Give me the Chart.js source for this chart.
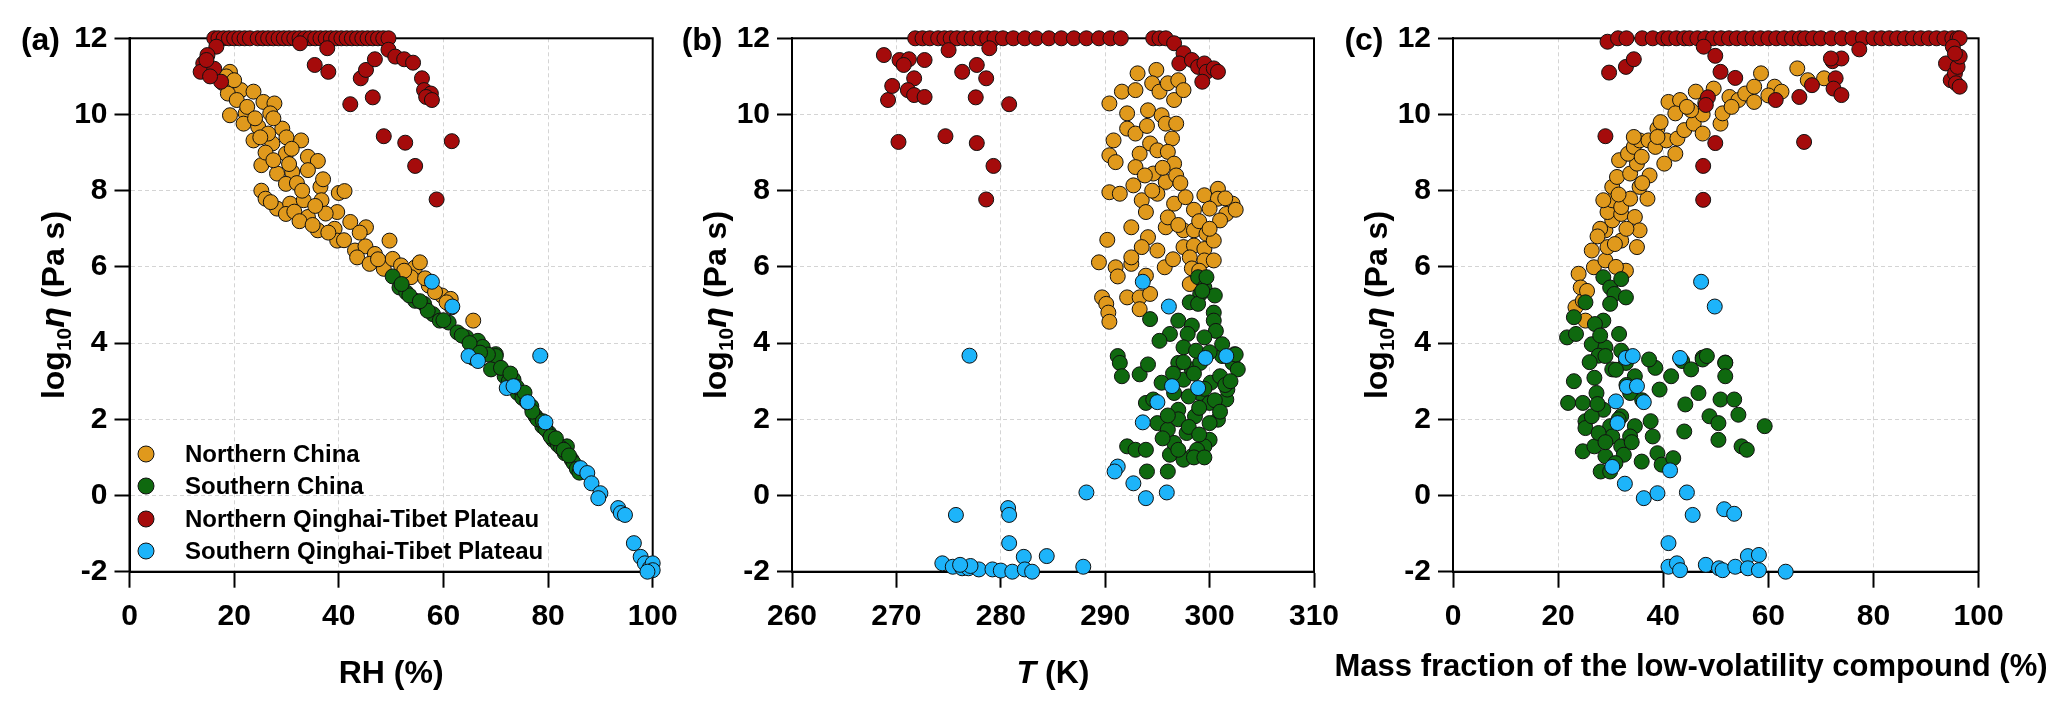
<!DOCTYPE html>
<html>
<head>
<meta charset="utf-8">
<script src="https://cdn.jsdelivr.net/npm/chart.js@4.4.0/dist/chart.umd.min.js"></script>
<style>
  html, body { margin: 0; padding: 0; background: #fff; }
  #wrap { position: relative; width: 2067px; height: 710px; }
  #wrap canvas { position: absolute; left: 0; top: 0; }
</style>
</head>
<body>
<div id="wrap">
  <canvas id="panelA" width="2067" height="710"></canvas>
  <canvas id="panelB" width="2067" height="710"></canvas>
  <canvas id="panelC" width="2067" height="710"></canvas>
</div>
<script>
// ---- DATA ----
const seriesNames = [
  "Northern China",
  "Southern China",
  "Northern Qinghai-Tibet Plateau",
  "Southern Qinghai-Tibet Plateau",
];

const viscosityTicks = [-2, 0, 2, 4, 6, 8, 10, 12];
const rhTicks = [0, 20, 40, 60, 80, 100];
const tempTicks = [260, 270, 280, 290, 300, 310];
const massTicks = [0, 20, 40, 60, 80, 100];

// (a) RH (%) vs log10 viscosity
const rhNorthChina = [
  [19.2, 11.12], [17.9, 10.82], [21.3, 10.64], [23.7, 10.6], [18.8, 10.55], [20.5, 10.38],
  [19.2, 9.98], [22.2, 10.03], [25.6, 10.33], [27.7, 10.29], [26.9, 10.03], [21.8, 9.76],
  [24.6, 9.68], [29.2, 9.63], [23.7, 9.32], [27.3, 9.24], [26.5, 9.5], [32.8, 9.32],
  [29.9, 8.97], [34.1, 8.89], [36.0, 8.78], [25.2, 8.67], [28.2, 8.45], [31.1, 8.49],
  [34.1, 8.54], [29.9, 8.18], [25.2, 8.0], [26.0, 7.79], [36.5, 8.1], [40.0, 7.94],
  [41.1, 7.99], [28.2, 7.53], [30.7, 7.66], [33.3, 7.75], [36.7, 7.75], [29.9, 7.39],
  [34.1, 7.31], [39.7, 7.44], [36.0, 6.96], [39.2, 7.0], [42.2, 7.18], [45.2, 7.04],
  [39.7, 6.69], [43.1, 6.43], [45.1, 6.54], [46.9, 6.34], [49.7, 6.69], [43.5, 6.25],
  [45.9, 6.08], [48.6, 5.95], [50.3, 6.21], [51.9, 6.04], [54.6, 5.99], [55.5, 6.12],
  [53.8, 5.73], [57.2, 5.51], [59.7, 5.25], [61.4, 5.16], [61.6, 4.94], [65.7, 4.59],
  [58.4, 5.34], [60.6, 5.07], [18.5, 11.0], [20.0, 10.9], [22.5, 10.2], [24.0, 9.9],
  [25.0, 9.4], [26.0, 9.0], [27.5, 8.8], [30.5, 8.7], [32.0, 8.2], [33.0, 8.0],
  [27.0, 7.7], [31.5, 7.45], [32.5, 7.2], [35.0, 7.1], [37.5, 7.4], [38.0, 6.9],
  [41.0, 6.7], [44.0, 6.9], [47.5, 6.2], [52.5, 5.9], [56.5, 5.7], [27.5, 9.9],
  [30.0, 9.4], [31.0, 9.1], [35.5, 7.6], [37.0, 8.3],
];
const rhSouthChina = [
  [50.3, 5.75], [51.6, 5.46], [52.9, 5.33], [54.6, 5.11], [56.3, 5.03], [58.0, 4.76],
  [59.3, 4.59], [61.0, 4.54], [62.7, 4.28], [64.4, 4.15], [66.6, 4.06], [70.0, 3.71],
  [65.7, 3.61], [70.0, 3.66], [69.1, 3.31], [71.7, 3.13], [73.4, 3.04], [74.2, 2.69],
  [75.1, 2.56], [76.8, 2.34], [77.6, 2.08], [78.9, 1.82], [80.2, 1.64], [81.0, 1.46],
  [81.9, 1.33], [83.6, 1.29], [83.2, 1.11], [84.5, 0.94], [84.9, 0.85], [67.5, 3.9],
  [68.5, 3.7], [72.5, 3.0], [74.0, 2.85], [76.0, 2.45], [78.0, 2.0], [79.5, 1.75],
  [80.5, 1.55], [82.5, 1.25], [85.5, 0.7], [86.0, 0.6], [57.0, 4.85], [60.0, 4.6],
  [63.5, 4.2], [65.0, 4.0], [53.5, 5.25], [55.5, 5.1], [52.0, 5.55], [67.0, 3.75],
  [71.0, 3.35], [72.8, 3.2], [75.5, 2.7], [77.0, 2.2], [79.0, 1.95], [81.5, 1.5],
  [83.0, 1.2], [84.0, 1.05],
];
const rhNorthQTP = [
  [16.2, 12], [17, 12], [18, 12], [19, 12], [20, 12], [21, 12], [22, 12], [23, 12],
  [24.5, 12], [25.5, 12], [26.5, 12], [27.5, 12], [28.5, 12], [29.5, 12], [30.5, 12],
  [31.5, 12], [32.5, 12], [33.5, 12], [34.5, 12], [35.5, 12], [36.5, 12], [37.5, 12],
  [38.5, 12], [39.5, 12], [40.5, 12], [41.5, 12], [42.5, 12], [43.5, 12], [44.5, 12],
  [45.5, 12], [46.5, 12], [47.5, 12], [48.5, 12], [49.5, 12],
  [16.6, 11.78], [14.9, 11.56], [14.1, 11.34], [13.6, 11.12], [16.2, 11.2], [17.5, 10.86],
  [15.4, 11.0], [14.7, 11.43], [32.6, 11.87], [37.8, 11.74], [35.4, 11.3], [38.0, 11.12],
  [42.2, 10.27], [44.2, 10.95], [45.2, 11.17], [46.9, 11.45], [46.5, 10.45], [48.6, 9.43],
  [49.5, 11.7], [50.8, 11.52], [52.5, 11.45], [54.2, 11.36], [55.9, 10.95], [56.3, 10.64],
  [57.6, 10.55], [56.7, 10.46], [57.8, 10.38], [52.7, 9.26], [54.6, 8.65], [58.7, 7.77],
  [61.6, 9.3],
];
const rhSouthQTP = [
  [57.8, 5.61], [61.7, 4.96], [78.5, 3.67], [64.8, 3.66], [66.6, 3.53], [72.1, 2.82],
  [73.4, 2.87], [76.1, 2.45], [79.5, 1.92], [86.2, 0.72], [87.5, 0.59], [88.3, 0.32],
  [90.0, 0.06], [89.6, -0.07], [93.4, -0.33], [93.9, -0.46], [94.7, -0.51], [96.4, -1.25],
  [97.7, -1.61], [98.5, -1.78], [99.4, -1.91], [100, -1.78], [100, -1.96], [99, -2.0],
];

// (b) T (K) vs log10 viscosity
const tempNorthChina = [
  [290.4, 10.29], [291.6, 10.6], [292.9, 10.64], [293.1, 11.08], [294.9, 11.17], [294.5, 10.82],
  [295.2, 10.6], [296, 10.82], [297, 10.9], [296.6, 10.38], [297.5, 10.64], [292.1, 10.03],
  [294.1, 10.11], [295.4, 9.98], [295.8, 9.76], [296.8, 9.76], [292.1, 9.63], [290.8, 9.32],
  [292.9, 9.5], [294.3, 9.24], [296.4, 9.37], [290.4, 8.93], [291, 8.75], [293.3, 8.97],
  [295, 9.06], [296, 9.02], [296.6, 8.71], [292.9, 8.62], [294.6, 8.45], [295.8, 8.23],
  [296.8, 8.4], [290.4, 7.96], [291.4, 7.92], [292.7, 8.14], [293.5, 7.75], [293.9, 7.44],
  [295, 7.92], [296.6, 7.66], [297.7, 7.83], [299.5, 7.88], [300.8, 8.05], [300.8, 7.79],
  [302.2, 7.66], [301.6, 7.39], [300, 7.53], [292.5, 7.04], [294.1, 6.78], [295.8, 7.04],
  [297.5, 6.96], [298.5, 6.96], [299.7, 6.87], [301, 7.22], [290.2, 6.71], [293.5, 6.52],
  [295, 6.43], [297.5, 6.52], [298.5, 6.56], [299.5, 6.47], [300.4, 6.69], [289.4, 6.12],
  [291, 5.99], [292.5, 6.08], [292.5, 6.25], [295.7, 5.99], [298.1, 6.25], [298.3, 5.96],
  [299.5, 6.17], [300.4, 6.17], [298.1, 5.55], [289.7, 5.2], [290.1, 5.03], [290.3, 4.8],
  [290.4, 4.56], [292.1, 5.2], [293.3, 5.2], [294.3, 5.29], [293.3, 4.89], [291.2, 5.75],
  [293.9, 5.77], [294.0, 9.7], [295.5, 8.6], [297.2, 8.2], [298.5, 7.5], [299.0, 7.2],
  [301.5, 7.8], [302.5, 7.5], [296.0, 7.3], [297.0, 7.1], [300.0, 7.0], [294.5, 8.0],
  [293.8, 8.4], [296.5, 6.2], [299.0, 5.9],
];
const tempSouthChina = [
  [291.2, 3.66], [291.4, 3.48], [291.6, 3.13], [293.3, 3.18], [294.1, 3.44], [293.9, 2.43],
  [294.6, 2.52], [295, 1.9], [292.1, 1.29], [292.9, 1.2], [293.9, 1.2], [294, 0.63],
  [296, 0.63], [296.2, 1.07], [297, 3.48], [297.5, 3.04], [298.3, 3.31], [299.1, 3.48],
  [301.2, 3.66], [302.2, 3.48], [302.7, 3.31], [301.6, 2.52], [300.8, 1.99], [300, 1.46],
  [299.5, 1.29], [298.3, 1.03], [297.5, 0.94], [296.6, 1.38], [297, 2.25], [297.8, 1.64],
  [298.6, 2.08], [299.1, 2.69], [300.1, 2.96], [301, 3.13], [295.4, 2.96], [296, 1.73],
  [296.6, 2.69], [298.8, 1.2], [300, 2.43], [301.7, 2.78], [294.3, 4.63], [298.9, 5.73],
  [299.5, 5.46], [299.1, 5.29], [300.5, 5.25], [298.1, 5.07], [298.9, 5.03], [300.4, 4.8],
  [297, 4.59], [298.3, 4.46], [300.4, 4.59], [300.6, 4.32], [296.2, 4.24], [297.9, 4.24],
  [299.5, 4.15], [301.2, 3.97], [295.2, 4.06], [297.5, 3.89], [298.7, 3.8], [300, 3.76],
  [302.4, 3.71], [299.7, 5.73], [299.3, 5.37], [297.5, 3.5], [298.5, 3.2], [299.5, 2.8],
  [300.5, 2.5], [301, 2.2], [298, 2.6], [299, 2.3], [297, 2.0], [298, 1.8], [299, 1.6],
  [300, 1.9], [301.5, 2.9], [302, 3.0], [296.5, 3.2], [297, 1.2], [298.5, 1.0], [299.5, 1.0],
  [296, 2.1], [295.5, 1.5], [302.5, 3.7],
];
const tempNorthQTP = [
  [271.8, 12], [272.5, 12], [273.2, 12], [274, 12], [274.6, 12], [275.2, 12], [275.8, 12],
  [276.5, 12], [277.2, 12], [278, 12], [278.7, 12], [279.4, 12], [280.2, 12], [281.2, 12],
  [282.3, 12], [283.4, 12], [284.6, 12], [285.8, 12], [287, 12], [288.2, 12], [289.4, 12],
  [290.5, 12], [291.5, 12], [294.6, 12], [295.2, 12], [295.8, 12],
  [269.2, 10.38], [269.6, 10.75], [270.2, 9.28], [268.8, 11.56], [270.3, 11.43], [271.2, 11.45],
  [270.7, 11.3], [271.7, 10.95], [271.1, 10.64], [271.7, 10.51], [272.7, 10.46], [272.7, 11.43],
  [275.0, 11.69], [274.7, 9.43], [276.3, 11.12], [277.7, 11.3], [278.6, 10.95], [277.6, 10.45],
  [277.7, 9.25], [278.9, 11.74], [279.3, 8.65], [278.6, 7.77], [280.8, 10.27], [296.6, 11.87],
  [297.5, 11.61], [297.1, 11.34], [298.3, 11.43], [298.9, 11.25], [299.5, 11.34], [299.7, 11.12],
  [300.4, 11.21], [300.8, 11.12], [299.3, 10.86],
];
const tempSouthQTP = [
  [293.6, 5.61], [296.1, 4.96], [277, 3.67], [299.6, 3.61], [301.6, 3.66], [296.4, 2.87],
  [298.9, 2.82], [295, 2.45], [293.6, 1.92], [291.2, 0.76], [290.9, 0.63], [292.7, 0.32],
  [293.9, -0.07], [295.9, 0.08], [288.2, 0.08], [275.7, -0.51], [280.7, -0.33], [280.8, -0.51],
  [280.8, -1.25], [282.2, -1.61], [284.4, -1.59], [287.9, -1.87], [274.4, -1.78], [275.4, -1.87],
  [276.3, -1.91], [276.9, -1.91], [277.9, -1.94], [279.2, -1.94], [280, -1.97], [281.1, -2.0],
  [282.3, -1.94], [283, -2.0], [277.1, -1.85], [276.1, -1.82],
];

// (c) mass fraction of the low-volatility compound (%) vs log10 viscosity
const massNorthChina = [
  [23.9, 5.82], [26.4, 6.43], [26.8, 5.99], [29, 6.17], [29.4, 6.52], [32, 6.69], [32.9, 5.9],
  [35, 6.52], [29, 6.96], [30.3, 7.22], [29.4, 7.44], [32, 7.39], [34.6, 7.31], [35.5, 6.96],
  [30.3, 7.75], [32, 7.57], [33.7, 7.79], [37, 7.79], [35.5, 8.1], [30.3, 8.1], [31.2, 8.36],
  [33.7, 8.45], [35, 8.71], [37.4, 8.4], [31.6, 8.8], [33.3, 8.97], [34.4, 9.15], [35.5, 9.32],
  [34.4, 9.41], [37.2, 9.32], [38.5, 9.15], [40.2, 8.71], [42.3, 8.97], [40.6, 9.32],
  [38.9, 9.63], [42.7, 9.37], [44, 9.59], [45.8, 9.76], [41, 10.33], [43.2, 10.38],
  [42.3, 10.03], [46.2, 10.6], [47.5, 10.0], [47.5, 9.5], [49.6, 10.68], [50.9, 9.76],
  [51.3, 10.03], [52.6, 10.46], [54.3, 10.38], [55.6, 10.55], [57.3, 10.73], [58.6, 11.08],
  [57.3, 10.33], [61.2, 10.73], [65.5, 11.21], [70.6, 10.95], [38.9, 9.41], [45.3, 10.11],
  [35.9, 8.89], [28.6, 7.75], [23.3, 4.94], [24.7, 5.11], [24.3, 5.46], [25.5, 5.37],
  [25.2, 4.59], [28, 7.0], [31, 6.0], [33, 7.0], [30.8, 6.6], [36, 8.2], [39.5, 9.8],
  [44.5, 10.2], [48, 10.3], [53, 10.2], [60, 10.5], [62.5, 10.6], [67.5, 10.9], [27.5, 6.8],
  [31.5, 7.9],
];
const massSouthChina = [
  [28.6, 5.73], [29.9, 5.46], [32, 5.68], [30.7, 5.29], [32.9, 5.2], [25.2, 5.07], [29.9, 5.03],
  [23, 4.68], [21.7, 4.15], [23.4, 4.24], [26.4, 3.97], [28.6, 4.59], [31.6, 4.24], [29, 3.89],
  [27.7, 3.67], [32, 3.8], [47.5, 3.62], [51.8, 3.49], [23, 3.0], [21.9, 2.43], [24.7, 2.43],
  [25.2, 1.95], [25.2, 1.77], [24.7, 1.16], [26.9, 1.29], [28.1, 0.63], [29.9, 0.63],
  [26.9, 3.09], [27.3, 2.69], [28.6, 2.25], [29.9, 1.82], [30.3, 1.55], [32, 1.29], [32.5, 1.07],
  [33.7, 2.69], [34.6, 1.82], [35.9, 0.89], [37.6, 1.95], [38, 1.55], [38.9, 1.11], [39.7, 0.81],
  [39.3, 2.78], [38.5, 3.35], [41.5, 3.13], [41.9, 0.98], [43.6, 3.53], [44, 1.68], [44.2, 2.39],
  [45.3, 3.31], [46.7, 2.69], [47.5, 3.57], [48.3, 3.66], [48.8, 2.08], [50.5, 1.9], [50.5, 1.46],
  [50.9, 2.52], [51.8, 3.48], [51.8, 3.13], [53.5, 2.52], [54.3, 2.12], [54.9, 1.29], [55.9, 1.2],
  [59.3, 1.82], [29, 3.66], [30.3, 3.31], [32.9, 3.48], [34.6, 3.13], [37.3, 3.57], [32, 2.08],
  [33.7, 1.55], [27.7, 1.64], [26.4, 2.08], [29, 1.03], [30.9, 0.85], [27, 4.5], [28, 4.2],
  [26, 3.5], [31, 3.3], [33, 2.9], [36, 2.5], [27.5, 2.4], [31.5, 2.0], [29, 1.4], [34, 1.4],
];
const massNorthQTP = [
  [29.4, 11.91], [31.4, 12], [33, 12], [36, 12], [38, 12], [40, 12], [41, 12], [42.5, 12],
  [44, 12], [45, 12], [46.5, 12], [48, 12], [49.5, 12], [51, 12], [52.5, 12], [54, 12],
  [55.5, 12], [57, 12], [58.5, 12], [60, 12], [61.5, 12], [63, 12], [64.5, 12], [66, 12],
  [67, 12], [68.5, 12], [70, 12], [72, 12], [74, 12], [76, 12], [78, 12], [80, 12], [81.5, 12],
  [83, 12], [84.5, 12], [86, 12], [87.5, 12], [89, 12], [90.5, 12], [92, 12], [93.5, 12],
  [95, 12], [96, 12], [96.4, 12],
  [29.7, 11.1], [32.9, 11.25], [34.4, 11.45], [29.0, 9.43], [47.7, 11.78], [49.9, 11.54],
  [50.9, 11.12], [53.7, 10.96], [48.5, 10.45], [48.1, 10.25], [49.9, 9.25], [47.6, 8.65],
  [47.6, 7.76], [61.4, 10.38], [65.9, 10.46], [66.8, 9.28], [68.3, 10.77], [72.2, 11.4],
  [73.9, 11.47], [72.8, 10.95], [72.4, 10.68], [73.9, 10.51], [71.9, 11.47], [77.3, 11.71],
  [93.8, 11.34], [94.7, 10.9], [95.5, 11.08], [96, 11.25], [96.4, 11.52], [95.1, 11.78],
  [95.7, 10.82], [96.4, 10.73], [95.5, 11.6],
];
const massSouthQTP = [
  [47.2, 5.61], [49.8, 4.96], [32.9, 3.61], [34.2, 3.66], [43.2, 3.61], [33.1, 2.85], [35, 2.87],
  [31, 2.47], [36.3, 2.45], [31.3, 1.9], [30.3, 0.75], [41.3, 0.66], [32.7, 0.31], [36.3, -0.07],
  [38.9, 0.06], [44.5, 0.08], [45.6, -0.51], [51.6, -0.36], [53.5, -0.48], [41, -1.25],
  [41, -1.87], [42.6, -1.78], [43.2, -1.96], [48.1, -1.82], [50.6, -1.91], [51.3, -1.96],
  [53.7, -1.87], [56.1, -1.59], [58.2, -1.56], [56.1, -1.91], [58.2, -1.96], [63.3, -2.0],
];

// ---- LAYOUT / STYLE ----
const W = 2067;
const H = 710;
const PLOT_TOP = 38.3;
const PLOT_BOTTOM = 571.7;
const Y_AXIS_W = 60;
const FONT = '"Liberation Sans", Arial, Helvetica, sans-serif';
const TICK_SIZE = 30;
const TITLE_SIZE = 32;
const POINT_R = 7.5;
const SERIES_COLORS = ["#E0991C", "#0F690F", "#A50B0B", "#1DB4FA"];
const DRAW_ORDER = [3, 2, 1, 0]; // lower = drawn on top (blue on top)

const yTitleParts = [
  { text: "log", size: 32 },
  { text: "10", size: 21, shift: 7 },
  { text: "η", size: 34, italic: true },
  { text: " (Pa s)", size: 32 },
];

const panels = [
  {
    canvas: "panelA", tag: "(a)", left: 129.5, right: 652.7,
    xTicks: rhTicks, series: [rhNorthChina, rhSouthChina, rhNorthQTP, rhSouthQTP],
    xTitle: [{ text: "RH (%)", size: TITLE_SIZE }], xTitleBase: 683, legend: true,
  },
  {
    canvas: "panelB", tag: "(b)", left: 792, right: 1314,
    xTicks: tempTicks, series: [tempNorthChina, tempSouthChina, tempNorthQTP, tempSouthQTP],
    xTitle: [{ text: "T", size: TITLE_SIZE, italic: true }, { text: " (K)", size: TITLE_SIZE }],
    xTitleBase: 683,
  },
  {
    canvas: "panelC", tag: "(c)", left: 1453, right: 1978.6,
    xTicks: massTicks, series: [massNorthChina, massSouthChina, massNorthQTP, massSouthQTP],
    xTitle: [{ text: "Mass fraction of the low-volatility compound (%)", size: 31 }],
    xTitleBase: 676, xTitleCenter: 1691,
  },
];
const panelById = {};
panels.forEach((p) => { panelById[p.canvas] = p; });

function fontSpec(part) {
  return (part.italic ? "italic " : "") + "bold " + part.size + "px " + FONT;
}

// draws a run of differently styled text pieces centred on x
function drawRichText(ctx, parts, x, y) {
  const widths = parts.map((p) => {
    ctx.font = fontSpec(p);
    return ctx.measureText(p.text).width;
  });
  const total = widths.reduce((a, b) => a + b, 0);
  let cx = x - total / 2;
  ctx.textAlign = "left";
  ctx.textBaseline = "alphabetic";
  parts.forEach((p, i) => {
    ctx.font = fontSpec(p);
    ctx.fillText(p.text, cx, y + (p.shift || 0));
    cx += widths[i];
  });
}

const framePlugin = {
  id: "frame",
  beforeDatasetsDraw(chart) {
    const { ctx, chartArea: a } = chart;
    ctx.save();
    ctx.strokeStyle = "#000";
    ctx.lineWidth = 2;
    ctx.strokeRect(a.left, a.top, a.right - a.left, a.bottom - a.top);
    ctx.restore();
  },
};

const decorPlugin = {
  id: "decor",
  afterDraw(chart) {
    const panel = panelById[chart.canvas.id];
    const { ctx, chartArea: a } = chart;
    ctx.save();
    ctx.fillStyle = "#000";

    // panel tag
    ctx.font = "bold " + TITLE_SIZE + "px " + FONT;
    ctx.textAlign = "right";
    ctx.textBaseline = "alphabetic";
    ctx.fillText(panel.tag, a.left - 69.5, 50);

    // x title
    const cx = panel.xTitleCenter || (a.left + a.right) / 2;
    drawRichText(ctx, panel.xTitle, cx, panel.xTitleBase);

    // y title, rotated
    ctx.save();
    ctx.translate(a.left - 66, (a.top + a.bottom) / 2);
    ctx.rotate(-Math.PI / 2);
    drawRichText(ctx, yTitleParts, 0, 0);
    ctx.restore();

    // legend
    if (panel.legend) {
      const rows = [117.7, 85.7, 52.7, 20.7];
      chart.data.datasets.forEach((ds, i) => {
        const y = a.bottom - rows[i];
        ctx.beginPath();
        ctx.arc(a.left + 16.5, y, 8, 0, Math.PI * 2);
        ctx.fillStyle = ds.backgroundColor;
        ctx.fill();
        ctx.lineWidth = 1;
        ctx.strokeStyle = "#111";
        ctx.stroke();
        ctx.fillStyle = "#000";
        ctx.font = "bold 24px " + FONT;
        ctx.textAlign = "left";
        ctx.textBaseline = "middle";
        ctx.fillText(ds.label, a.left + 55.5, y + 1);
      });
    }
    ctx.restore();
  },
};

function axisFont() {
  return { family: FONT, size: TICK_SIZE, weight: "bold" };
}

function buildChart(panel) {
  const datasets = panel.series.map((pairs, i) => ({
    label: seriesNames[i],
    data: pairs.map(([x, y]) => ({ x, y })),
    backgroundColor: SERIES_COLORS[i],
    borderColor: "#111",
    borderWidth: 1,
    pointRadius: POINT_R,
    pointHoverRadius: POINT_R,
    order: DRAW_ORDER[i],
    clip: false,
  }));

  const xTicks = panel.xTicks;
  return new Chart(document.getElementById(panel.canvas).getContext("2d"), {
    type: "scatter",
    data: { datasets },
    options: {
      responsive: false,
      animation: false,
      devicePixelRatio: 1,
      layout: {
        padding: { left: panel.left - Y_AXIS_W, right: W - panel.right, top: PLOT_TOP, bottom: 0 },
      },
      plugins: {
        legend: { display: false },
        tooltip: { enabled: false },
      },
      scales: {
        x: {
          type: "linear",
          min: xTicks[0],
          max: xTicks[xTicks.length - 1],
          afterBuildTicks: (s) => { s.ticks = xTicks.map((v) => ({ value: v })); },
          afterFit: (s) => { s.height = H - PLOT_BOTTOM; },
          ticks: { font: axisFont(), color: "#000", padding: 11, autoSkip: false, maxRotation: 0 },
          grid: { color: "#d4d4d4", lineWidth: 1, tickLength: 16, tickColor: "#000", tickWidth: 2 },
          border: { display: true, color: "#000", width: 2, dash: [4, 3] },
        },
        y: {
          type: "linear",
          min: viscosityTicks[0],
          max: viscosityTicks[viscosityTicks.length - 1],
          afterBuildTicks: (s) => { s.ticks = viscosityTicks.map((v) => ({ value: v })); },
          afterFit: (s) => { s.width = Y_AXIS_W; },
          ticks: { font: axisFont(), color: "#000", padding: 7, autoSkip: false },
          grid: { color: "#d4d4d4", lineWidth: 1, tickLength: 15, tickColor: "#000", tickWidth: 2 },
          border: { display: true, color: "#000", width: 2, dash: [4, 3] },
        },
      },
    },
    plugins: [framePlugin, decorPlugin],
  });
}

panels.forEach(buildChart);
</script>
</body>
</html>
